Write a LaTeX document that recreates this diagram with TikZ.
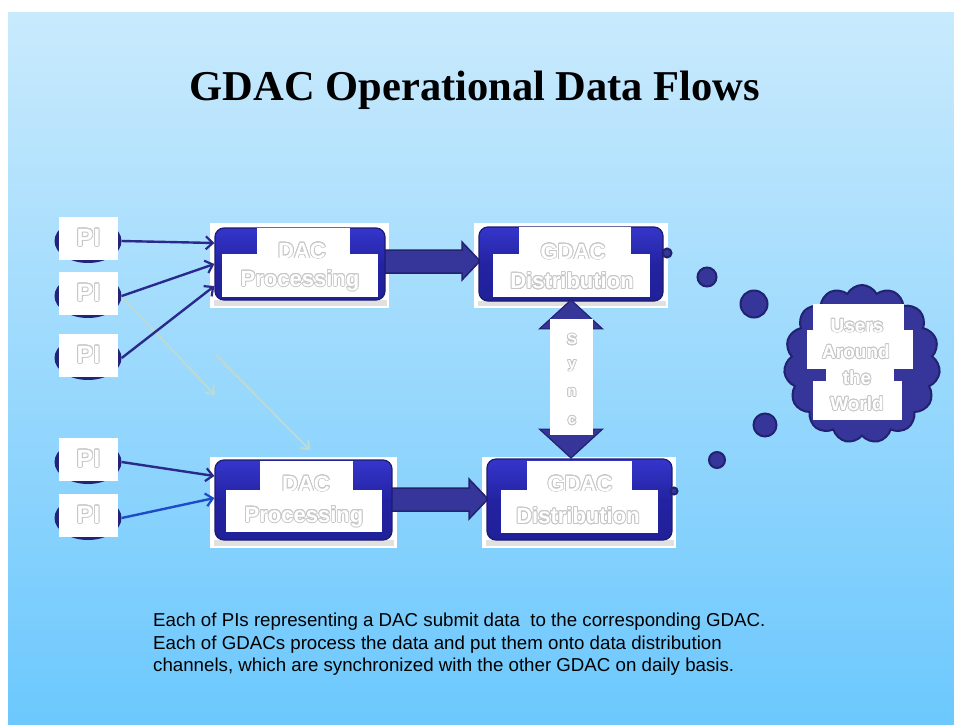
\documentclass[tikz,border=0pt]{standalone}
\usepackage{fontspec}
\setmainfont{Liberation Serif}
\newfontfamily\arialfont{Liberation Sans}
\usepackage[copies]{contour}
\contourlength{0.8pt}
\contournumber{16}
\usetikzlibrary{arrows.meta,shapes.symbols,shapes.geometric,shapes.arrows,calc}
\definecolor{bgtop}{HTML}{C9EAFD}
\definecolor{bgbot}{HTML}{6CC8FD}
\definecolor{navy}{HTML}{2A2A8C}
\definecolor{ellfill}{HTML}{23237A}
\definecolor{boxtop}{HTML}{3535CC}
\definecolor{boxbot}{HTML}{20209A}
\definecolor{boxedge}{HTML}{1C1C6E}
\definecolor{blockfill}{HTML}{35359A}
\definecolor{blockedge}{HTML}{222270}
\definecolor{faint}{HTML}{BCDAD4}
\definecolor{brightblue}{HTML}{1E4CC8}
\newcommand\ghost[1]{{\color{white}\contour{black!22}{#1}}}
\begin{document}
\begin{tikzpicture}[x=1pt,y=-1pt,
  whitebg/.style={fill=white,draw=none},
  piell/.style={ellipse,fill=ellfill,draw=none,minimum width=67,minimum height=44,inner sep=0},
  pirect/.style={rectangle,fill=white,minimum width=59,minimum height=43,inner sep=0,
     font=\arialfont\bfseries\fontsize{25}{28}\selectfont},
  bluebox/.style={rectangle,rounded corners=9pt,top color=boxtop,bottom color=boxbot,
     middle color=boxbot!85!boxtop,draw=boxedge,line width=1.2pt,inner sep=0},
  boxtext/.style={font=\arialfont\bfseries\fontsize{22}{26}\selectfont,inner sep=0},
  thin/.style={draw=navy,line width=2.4pt,-{Straight Barb[length=7pt,width=13pt,line width=2.2pt]}},
  faintarrow/.style={draw=faint,line width=2pt,-{Straight Barb[length=7pt,width=12pt]}},
  blockarrow/.style={fill=blockfill,draw=blockedge,line width=1.5pt,line join=miter},
  bubble/.style={circle,fill=blockfill,draw=blockedge,line width=2pt,inner sep=0},
  cloudtext/.style={font=\arialfont\bfseries\fontsize{19}{22}\selectfont,inner sep=0}
]
\useasboundingbox (0,0) rectangle (954,724);
\fill[white] (0,0) rectangle (954,724);
\shade[top color=bgtop,bottom color=bgbot] (8,12) rectangle (954,724);

% title
\node[font=\fontsize{42.5}{50}\selectfont\bfseries,anchor=base,inner sep=0] (title) at (475,100) {GDAC Operational Data Flows};

% white backgrounds of boxes
\fill[whitebg] (210,223) rectangle (389,308);
\fill[whitebg] (210,457) rectangle (397,548);
\fill[whitebg] (474,223) rectangle (668,308);
\fill[whitebg] (482,457) rectangle (676,548);
\fill[black!12] (214,300) rectangle (387,306);
\fill[black!12] (214,540) rectangle (394,546);
\fill[black!12] (478,301) rectangle (666,306);
\fill[black!12] (486,540) rectangle (674,546);

% block arrows (drawn as shapes)
\draw[blockarrow] (383,250) -- (462,250) -- (462,242) -- (480,261) -- (462,280) -- (462,273) -- (383,273) -- cycle;
\draw[blockarrow] (390,488) -- (469,488) -- (469,479) -- (488,499) -- (469,519) -- (469,511) -- (390,511) -- cycle;

% blue boxes
\node[bluebox,minimum width=170,minimum height=72] (dac1) at (300,264) {};
\node[bluebox,minimum width=177,minimum height=80] (dac2) at (303.5,500) {};
\node[bluebox,minimum width=184,minimum height=74] (gdac1) at (571,264) {};
\node[bluebox,minimum width=185,minimum height=81] (gdac2) at (579.5,499.5) {};

% white text patches
\fill[white] (257,228) rectangle (350,254);
\fill[white] (222,254) rectangle (378,297);
\fill[white] (260,461) rectangle (353,490);
\fill[white] (226,490) rectangle (382,532);
\fill[white] (519,227) rectangle (631,254);
\fill[white] (493,254) rectangle (650,297);
\fill[white] (527,461) rectangle (632,490);
\fill[white] (501,490) rectangle (658,533);

\node[boxtext] (dac1a) at (302,251) {\ghost{DAC}};
\node[boxtext] (dac1b) at (300,281) {\ghost{Processing}};
\node[boxtext] (dac2a) at (306,484) {\ghost{DAC}};
\node[boxtext] (dac2b) at (304,517) {\ghost{Processing}};
\node[boxtext] (gdac1a) at (573,252) {\ghost{GDAC}};
\node[boxtext] (gdac1b) at (572,281) {\ghost{Distribution}};
\node[boxtext] (gdac2a) at (580,484) {\ghost{GDAC}};
\node[boxtext] (gdac2b) at (578,516) {\ghost{Distribution}};

% PI nodes
\foreach \n/\y in {1/241,2/296,3/358,4/462,5/518}{
  \node[piell] (pie\n) at (88,\y) {};
  \node[pirect] (pi\n) at (88.5,\y-3) {\ghost{PI}};
}

% faint arrows
\coordinate (f1s) at (122,297);
\coordinate (f1e) at (215,395);
\coordinate (f2s) at (216,355);
\coordinate (f2e) at (310,450);
\draw[faintarrow] (f1s) -- (f1e);
\draw[faintarrow] (f2s) -- (f2e);

% thin arrows
\draw[thin] (pie1.east) -- ([yshift=21pt]dac1.west);
\draw[thin] (pie2.east) -- (dac1.west);
\draw[thin] (pie3.east) -- ([yshift=-22pt]dac1.west);
\draw[thin] (pie4.east) -- ([yshift=24pt]dac2.west);
\draw[thin,draw=brightblue] (pie5.east) -- ([yshift=2pt]dac2.west);

% sync double arrow
\node[double arrow,double arrow head extend=10pt,double arrow tip angle=95,
  minimum width=63pt,minimum height=158pt,rotate=90,inner sep=0,
  fill=blockfill,draw=blockedge,line width=1.2pt] (sync) at (571,379) {};
\fill[white] (550,319) rectangle (593,435);
\node[font=\arialfont\bfseries\fontsize{15}{18}\selectfont,inner sep=0] (s1) at (572,340) {\ghost{S}};
\node[font=\arialfont\bfseries\fontsize{15}{18}\selectfont,inner sep=0] (s2) at (572,366) {\ghost{y}};
\node[font=\arialfont\bfseries\fontsize{15}{18}\selectfont,inner sep=0] (s3) at (572,393) {\ghost{n}};
\node[font=\arialfont\bfseries\fontsize{15}{18}\selectfont,inner sep=0] (s4) at (572,421) {\ghost{c}};

% bubbles
\node[bubble,minimum size=9pt] (b0) at (667,253) {};
\node[bubble,minimum size=7pt] (b0b) at (674,491) {};
\node[bubble,minimum size=19pt] (b1) at (707,277) {};
\node[bubble,minimum size=27pt] (b2) at (754,304) {};
\node[bubble,minimum size=23pt] (b3) at (765,425) {};
\node[bubble,minimum size=16pt] (b4) at (717,460) {};

% cloud
\node[cloud,cloud puffs=15,cloud puff arc=125,aspect=1,minimum width=156pt,minimum height=158pt,
  fill=blockfill,draw=blockedge,line width=2pt,inner sep=0] (users) at (862,364) {};
\fill[white] (813,304) rectangle (904,330);
\fill[white] (807,330) rectangle (913,369);
\fill[white] (826,369) rectangle (894,381);
\fill[white] (813,381) rectangle (902,420);
\node[cloudtext] (u1) at (857,326) {\ghost{Users}};
\node[cloudtext] (u2) at (856,352) {\ghost{Around}};
\node[cloudtext] (u3) at (857,378) {\ghost{the}};
\node[cloudtext] (u4) at (857,404) {\ghost{World}};

% body text
\node[anchor=north west,align=left,inner sep=0,font=\arialfont\fontsize{18.7}{22.5}\selectfont] (body) at (153,613)
 {Each of PIs representing a DAC submit data\ \ to the corresponding GDAC.\\
  Each of GDACs process the data and put them onto data distribution\\
  channels, which are synchronized with the other GDAC on daily basis.};
\end{tikzpicture}
\end{document}
